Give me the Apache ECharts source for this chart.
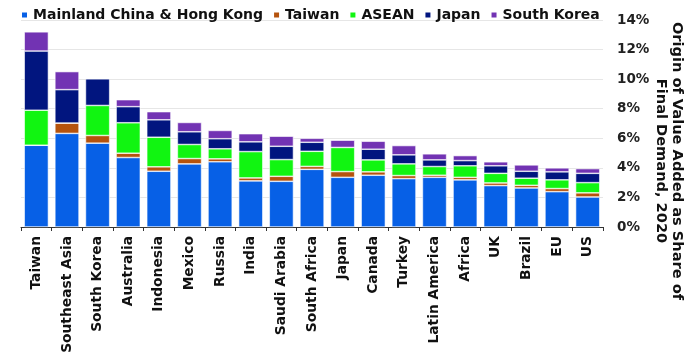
<!DOCTYPE html>
<html>
<head>
<meta charset="utf-8">
<script src="https://cdn.jsdelivr.net/npm/echarts@6/dist/echarts.min.js"></script>
<style>
html,body{margin:0;padding:0;background:#fff;}
#chart{width:700px;height:357px;}
</style>
</head>
<body>
<div id="chart"></div>
<script>
var categories = ['Taiwan','Southeast Asia','South Korea','Australia','Indonesia','Mexico','Russia','India','Saudi Arabia','South Africa','Japan','Canada','Turkey','Latin America','Africa','UK','Brazil','EU','US'];
var chinaHK = [5.53,6.33,5.67,4.70,3.77,4.27,4.41,3.12,3.09,3.90,3.36,3.50,3.27,3.36,3.19,2.80,2.64,2.39,2.03];
var taiwan  = [0,0.70,0.52,0.29,0.30,0.36,0.20,0.20,0.34,0.20,0.39,0.23,0.21,0.14,0.17,0.18,0.18,0.21,0.28];
var asean   = [2.37,0,2.03,2.06,2.00,0.95,0.68,1.78,1.13,1.02,1.63,0.81,0.79,0.59,0.78,0.65,0.48,0.59,0.69];
var japan   = [4.00,2.26,1.81,1.09,1.18,0.86,0.68,0.66,0.90,0.61,0,0.72,0.61,0.45,0.35,0.51,0.47,0.54,0.63];
var korea   = [1.30,1.22,0,0.47,0.55,0.63,0.56,0.55,0.68,0.27,0.49,0.54,0.63,0.41,0.34,0.27,0.43,0.27,0.32];
var yTicks = [0,2,4,6,8,10,12,14];
var seriesNames = ['Mainland China & Hong Kong','Taiwan','ASEAN','Japan','South Korea'];
var colors = ['#0760e6','#b5530d','#11f511','#01157f','#7233b3'];

var chart = echarts.init(document.getElementById('chart'));
var font = 'DejaVu Sans';
var dataSets = [chinaHK, taiwan, asean, japan, korea];
var series = dataSets.map(function(d, i){
  return {
    name: seriesNames[i],
    type: 'bar',
    stack: 'total',
    data: d,
    barCategoryGap: '21%',
    itemStyle: {color: colors[i], borderColor: '#ffffff', borderWidth: 0.6},
    emphasis: {disabled: true}
  };
});
chart.setOption({
  animation: false,
  color: colors,
  textStyle: {fontFamily: font},
  legend: {
    left: 15, top: 3,
    icon: 'rect', itemWidth: 7, itemHeight: 7, itemGap: 9,
    textStyle: {fontFamily: font, fontWeight: 'bold', fontSize: 14, color: '#111'},
    data: seriesNames
  },
  grid: {left: 21, right: 97, top: 20, bottom: 130, containLabel: false},
  xAxis: {
    type: 'category',
    data: categories,
    axisLine: {lineStyle: {color: '#333', width: 1}},
    axisTick: {show: true, length: 4, lineStyle: {color: '#333'}},
    axisLabel: {rotate: 90, interval: 0, margin: 9, fontFamily: font, fontWeight: 'bold', fontSize: 13.8, color: '#111'}
  },
  yAxis: {
    type: 'value',
    position: 'right',
    min: yTicks[0], max: yTicks[yTicks.length-1], interval: 2,
    axisLine: {show: false},
    axisTick: {show: false},
    splitLine: {lineStyle: {color: '#e6e6e6', width: 1}},
    axisLabel: {formatter: '{value}%', margin: 14, fontFamily: font, fontWeight: 'bold', fontSize: 13.5, color: '#222'}
  },
  graphic: [{
    type: 'text',
    x: 669, y: 161,
    rotation: -Math.PI/2,
    style: {
      text: 'Origin of Value Added as Share of\nFinal Demand, 2020',
      fontFamily: font, fontWeight: 'bold', fontSize: 14.6, lineHeight: 16,
      fill: '#111', align: 'center', verticalAlign: 'middle'
    }
  }],
  series: series
});
</script>
</body>
</html>
